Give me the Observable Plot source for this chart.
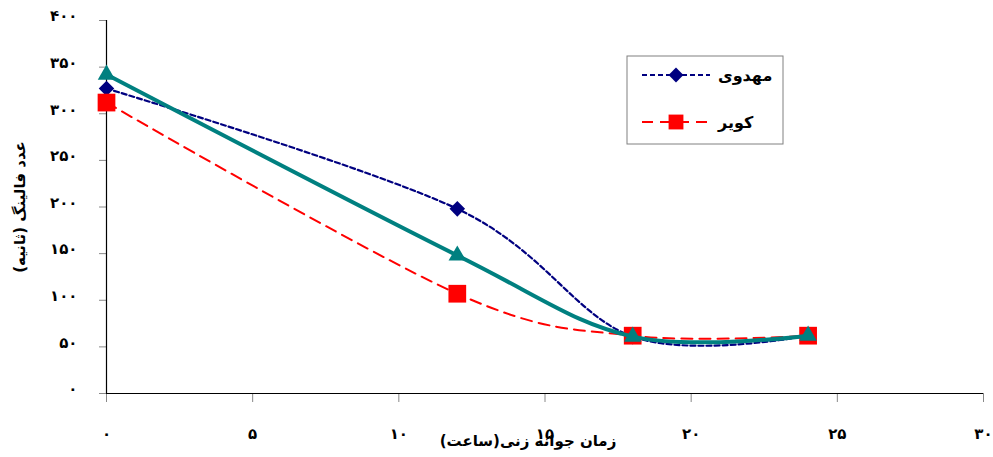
<!DOCTYPE html>
<html>
<head>
<meta charset="utf-8">
<script src="https://cdn.jsdelivr.net/npm/d3@7"></script>
<script src="https://cdn.jsdelivr.net/npm/@observablehq/plot@0.6"></script>
<style>
  html, body { margin: 0; padding: 0; background: white; }
  #chart { width: 993px; height: 457px; }
</style>
</head>
<body>
<div id="chart"></div>
<script>
// ---- data ----
const hours = [0, 12, 18, 24];
const mahdavi = [327, 198, 61, 62];   // مهدوی
const kavir = [312, 107, 62, 62];     // کویر
const third = [342, 148, 61, 62];     // سری سوم (بدون راهنما)

const xTicks = [0, 5, 10, 15, 20, 25, 30];
const xTickLabels = ["۰", "۵", "۱۰", "۱۵", "۲۰", "۲۵", "۳۰"];
const yTicks = [0, 50, 100, 150, 200, 250, 300, 350, 400];
const yTickLabels = ["۰", "۵۰", "۱۰۰", "۱۵۰", "۲۰۰", "۲۵۰", "۳۰۰", "۳۵۰", "۴۰۰"];

const xLabel = "زمان جوانه زنی(ساعت)";
const yLabel = "عدد فالینگ (ثانیه)";
const legendNames = ["مهدوی", "کویر"];

const rows = (vals) => hours.map((h, i) => ({x: h, y: vals[i]}));
const dMahdavi = rows(mahdavi);
const dKavir = rows(kavir);
const dThird = rows(third);

const xFmt = d => xTickLabels[xTicks.indexOf(d)];
const yFmt = d => yTickLabels[yTicks.indexOf(d)];

const navy = "#000080", red = "#FF0000", teal = "#008080";

const plot = Plot.plot({
  width: 993,
  height: 457,
  marginLeft: 106,
  marginRight: 10,
  marginTop: 20,
  marginBottom: 64,
  x: {domain: [0, 30]},
  y: {domain: [0, 400]},
  style: {fontFamily: "DejaVu Sans", fontSize: "15px", fontWeight: "bold", background: "white", overflow: "visible"},
  marks: [
    // tick marks
    Plot.axisY({ticks: yTicks, tickSize: 7, tickFormat: () => "", stroke: "#888", label: null}),
    Plot.axisX({ticks: xTicks, tickSize: 9, tickFormat: () => "", stroke: "#888", label: null}),
    // tick labels
    Plot.axisY({ticks: yTicks, tickSize: 0, tickPadding: 29, dy: -4, tickFormat: yFmt, label: null, fill: "black", fontSize: 15}),
    Plot.axisX({ticks: xTicks, tickSize: 0, tickPadding: 35, tickFormat: xFmt, label: null, fill: "black", fontSize: 15}),
    // axis lines
    Plot.ruleX([0], {stroke: "black", strokeWidth: 1.2}),
    Plot.ruleY([0], {stroke: "black", strokeWidth: 1.2}),
    // axis titles
    Plot.text([xLabel], {text: d => d, frameAnchor: "bottom", textAnchor: "middle", dx: -17, dy: 48, lineAnchor: "middle", fontSize: 15, fontWeight: "bold"}),
    Plot.text([yLabel], {text: d => d, frameAnchor: "left", textAnchor: "middle", dx: -86, rotate: -90, lineAnchor: "middle", fontSize: 15, fontWeight: "bold"}),
    // series
    Plot.line(dMahdavi, {x: "x", y: "y", stroke: navy, strokeWidth: 2.2, strokeDasharray: "5,3", curve: "cardinal"}),
    Plot.dot(dMahdavi, {x: "x", y: "y", symbol: "diamond2", r: 7, fill: navy}),
    Plot.line(dKavir, {x: "x", y: "y", stroke: red, strokeWidth: 2, strokeDasharray: "11,7", curve: "cardinal"}),
    Plot.dot(dKavir, {x: "x", y: "y", symbol: "square", r: 10, fill: red}),
    Plot.line(dThird, {x: "x", y: "y", stroke: teal, strokeWidth: 4, curve: "cardinal"}),
    Plot.dot(dThird, {x: "x", y: "y", symbol: "triangle", r: 6.5, fill: teal})
  ]
});

document.getElementById("chart").appendChild(plot);

// ---- legend (overlay inside the svg) ----
const svg = d3.select(plot);
const lg = svg.append("g").attr("font-family", "DejaVu Sans").attr("font-weight", "bold");
lg.append("rect").attr("x", 627).attr("y", 56).attr("width", 156).attr("height", 88)
  .attr("fill", "white").attr("stroke", "#808080").attr("stroke-width", 1);
const items = [
  {name: legendNames[0], color: navy, dash: "5,3", w: 2.2, y: 75, sym: d3.symbolDiamond2, size: 140},
  {name: legendNames[1], color: red, dash: "11,7", w: 2, y: 122, sym: d3.symbolSquare, size: 220}
];
items.forEach(it => {
  lg.append("line").attr("x1", 642).attr("x2", 710).attr("y1", it.y).attr("y2", it.y)
    .attr("stroke", it.color).attr("stroke-width", it.w).attr("stroke-dasharray", it.dash);
  lg.append("path").attr("d", d3.symbol(it.sym, it.size)()).attr("transform", `translate(676,${it.y})`).attr("fill", it.color);
  lg.append("text").attr("x", 718).attr("y", it.y).attr("dy", "0.35em").attr("font-size", 16)
    .attr("text-anchor", "start").text(it.name);
});
</script>
</body>
</html>
